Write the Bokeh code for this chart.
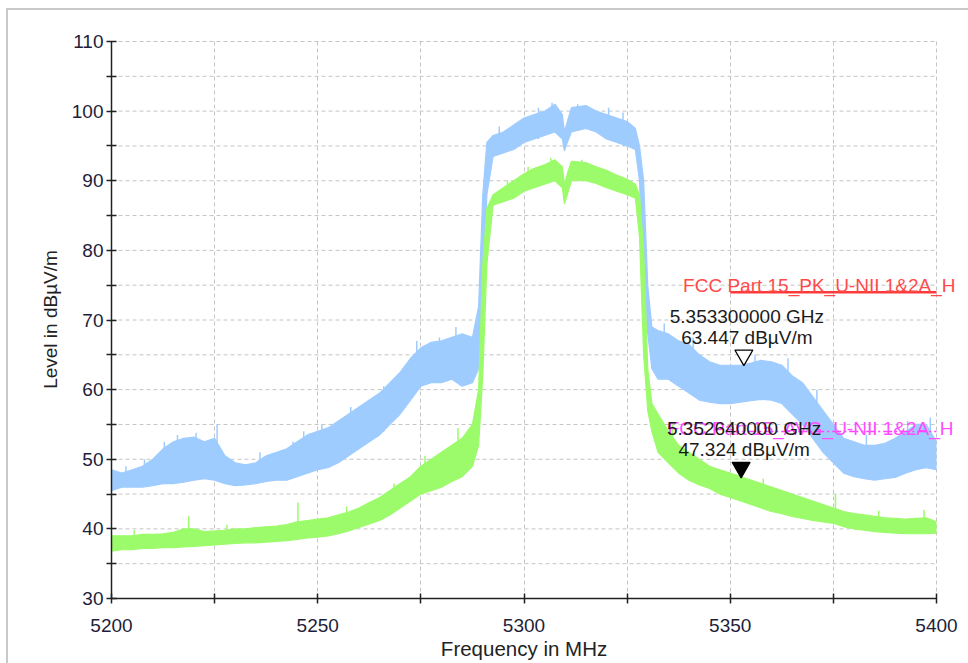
import math
from bokeh.plotting import figure
from bokeh.models import Range1d, FixedTicker, Label, ColumnDataSource, Title
from bokeh.embed import file_html
from bokeh.resources import INLINE

# ---------------- data ----------------
freq_mhz = [
    5200, 5202.5, 5205, 5207.5, 5210, 5212.5, 5215, 5217.5, 5220, 5222.5,
    5225, 5227.5, 5230, 5232.5, 5235, 5237.5, 5240, 5242.5, 5245, 5247.5,
    5250, 5252.5, 5255, 5257.5, 5260, 5262.5, 5265, 5267.5, 5270, 5272.5,
    5275, 5277.5, 5280, 5282.5, 5285, 5287.5,
    5289, 5290, 5291,
    5292.5, 5295, 5297.5, 5300, 5302.5, 5305, 5307.5,
    5309.3, 5309.8, 5310.5, 5311.5,
    5315, 5317.5, 5320, 5322.5, 5325,
    5327, 5328, 5329, 5330, 5331,
    5332.5, 5335, 5337.5, 5340, 5342.5, 5345, 5347.5, 5350, 5352.5, 5355,
    5357.5, 5360, 5362.5, 5365, 5367.5, 5370, 5372.5, 5375, 5377.5, 5380,
    5382.5, 5385, 5387.5, 5390, 5392.5, 5395, 5397.5, 5400,
]

# Peak trace (blue): lower / upper edge of the noise band, dBuV/m
pk_low = [
    45.5, 46.0, 46.0, 46.0, 46.2, 46.5, 46.5, 46.7, 47.0, 47.2,
    47.0, 46.5, 46.2, 46.3, 46.5, 46.8, 47.0, 47.0, 47.5, 48.0,
    48.5, 48.8, 49.5, 50.5, 51.5, 52.5, 53.5, 55.0, 56.5, 58.5,
    60.5, 61.0, 61.0, 61.5, 60.5, 61.0,
    63.0, 72.0, 88.0,
    93.5, 94.0, 94.5, 95.5, 96.0, 96.5, 97.0,
    96.0, 94.3, 95.5, 97.0,
    97.5, 97.0, 96.0, 95.5, 95.0,
    94.5, 90.0, 75.0, 68.0, 63.0,
    61.5, 61.5, 60.5, 59.5, 58.5, 58.2, 58.0, 58.0, 58.2, 58.4,
    58.6, 58.5, 58.0, 56.5, 55.0, 53.0, 51.0, 49.5, 48.0, 47.5,
    47.2, 47.0, 47.2, 47.4, 48.0, 48.5, 48.8, 48.5,
]
pk_high = [
    48.5, 48.0, 48.5, 49.0, 50.0, 51.5, 52.5, 53.0, 53.2, 52.5,
    53.0, 50.5, 49.5, 49.2, 49.5, 50.5, 51.0, 51.5, 52.5, 53.5,
    54.0, 54.5, 55.5, 56.5, 57.5, 58.5, 59.5, 61.0, 62.5, 64.5,
    66.0, 66.8, 67.0, 67.5, 68.0, 67.5,
    72.0, 88.0, 95.5,
    96.5, 97.0, 98.0, 99.0, 99.5, 100.0, 101.0,
    99.5, 97.0, 98.5, 100.5,
    100.8, 100.0, 99.5, 99.0, 98.5,
    97.5, 95.0, 90.0, 75.0, 69.0,
    68.5, 68.0, 67.0, 66.5, 65.0, 64.0, 63.5, 63.5, 63.5, 63.8,
    64.2, 64.0, 63.5, 62.0, 61.0, 59.0, 57.0, 55.0, 53.0, 52.5,
    52.0, 52.0, 52.3, 53.0, 54.0, 55.0, 55.0, 52.5,
]

# Average trace (green): lower / upper edge of the noise band, dBuV/m
avg_low = [
    36.8, 37.0, 37.0, 37.2, 37.2, 37.3, 37.3, 37.4, 37.5, 37.6,
    37.7, 37.8, 37.9, 38.0, 38.0, 38.1, 38.2, 38.3, 38.5, 38.7,
    38.8, 39.0, 39.3, 39.7, 40.2, 40.7, 41.2, 42.0, 43.0, 44.0,
    45.0, 45.5, 46.0, 46.8, 47.5, 49.0,
    52.0, 62.0, 78.0,
    86.5, 87.0, 87.5, 88.5, 89.0, 89.5, 90.0,
    89.0, 86.7, 88.0, 90.0,
    90.0, 89.6, 89.0, 88.5, 88.0,
    87.5, 82.0, 65.0, 57.0, 54.0,
    51.0, 49.5, 48.0, 47.0, 46.3, 45.8, 45.0, 44.5, 44.0, 43.5,
    43.0, 42.5, 42.2, 41.8, 41.5, 41.2, 41.0, 40.8, 40.3, 40.0,
    39.8, 39.6, 39.5, 39.4, 39.3, 39.3, 39.3, 39.4,
]
avg_high = [
    39.0, 39.0, 39.0, 39.2, 39.2, 39.3, 39.5, 40.0, 40.0, 39.6,
    39.7, 39.8, 40.0, 40.0, 40.2, 40.3, 40.4, 40.6, 41.0, 41.2,
    41.4, 41.6, 42.0, 42.4, 43.0, 43.8, 44.5, 45.5, 46.5, 47.5,
    49.0, 50.0, 51.0, 52.0, 53.0, 55.0,
    60.0, 78.0, 86.0,
    88.0, 89.0, 90.0, 91.0, 91.8, 92.3, 93.0,
    92.0, 89.5, 91.0, 92.8,
    92.6, 92.0, 91.5, 90.8, 90.2,
    89.5, 88.0, 80.0, 63.0, 58.0,
    56.5, 54.0, 52.0, 51.0, 50.0, 49.0, 48.5, 48.0, 47.5, 47.0,
    46.5, 46.0, 45.5, 45.0, 44.5, 44.0, 43.5, 43.0, 42.5, 42.2,
    42.0, 41.8, 41.6, 41.5, 41.4, 41.5, 41.6, 41.0,
]

# isolated noise spikes seen on the traces
pk_spike_freq = [5203.5, 5208, 5212.8, 5216, 5220.5, 5225.6, 5236, 5244, 5246.6, 5251,
                 5258, 5266, 5274, 5279.5, 5283.5, 5294, 5303.5, 5306.8, 5313, 5320.5,
                 5324, 5334, 5341, 5356, 5364, 5371, 5383, 5393, 5398.5]
pk_spike_base = [46.0, 46.5, 47.0, 47.0, 47.0, 48.0, 47.0, 47.5, 48.5, 49.0,
                 51.0, 54.0, 60.0, 62.0, 62.0, 94.0, 96.0, 97.0, 98.0, 96.0,
                 95.0, 62.0, 60.0, 59.0, 59.0, 54.0, 48.0, 49.0, 49.0]
pk_spike_top = [49.0, 50.0, 52.5, 53.5, 53.8, 55.0, 51.0, 52.5, 54.0, 55.0,
                57.5, 60.5, 67.0, 67.5, 69.0, 97.8, 100.5, 101.2, 101.0, 100.5,
                99.8, 69.5, 67.5, 65.0, 64.5, 60.0, 53.5, 55.5, 56.0]
avg_spike_freq = [5205.5, 5218.7, 5228, 5245.2, 5257, 5268.5, 5276, 5284, 5296, 5301,
                  5306.5, 5314, 5336, 5351.5, 5358, 5375.5, 5386, 5397]
avg_spike_base = [37.5, 38.5, 38.0, 39.5, 40.0, 43.0, 46.0, 48.0, 88.0, 89.0,
                  91.0, 90.5, 50.0, 45.0, 44.0, 41.5, 40.0, 40.0]
avg_spike_top = [39.8, 41.8, 40.6, 43.8, 43.2, 46.5, 50.5, 54.5, 90.0, 92.0,
                 93.3, 93.0, 55.0, 47.8, 47.2, 45.0, 42.6, 42.7]

# limit lines
limit_freq = [5350, 5400]
pk_limit = [74, 74]
avg_limit = [54, 54]
pk_limit_name = "FCC Part 15_PK_U-NII 1&2A_H"
avg_limit_name = "FCC Part 15_AVG_U-NII 1&2A_H"

# markers
marker_freq_ghz = [5.3533, 5.35264]
marker_level = [63.447, 47.324]
marker_filled = [False, True]

x_ticks = [5200, 5250, 5300, 5350, 5400]
x_minor = [5225, 5275, 5325, 5375]
y_ticks = [30, 40, 50, 60, 70, 80, 90, 100, 110]
y_minor = [35, 45, 55, 65, 75, 85, 95, 105]
x_title = "Frequency in MHz"
y_title = "Level in dBµV/m"

# ---------------- layout ----------------
FONT = "Liberation Sans"
FS = "19px"
BLUE = "#9fccff"
GREEN = "#9cfb6a"
GRID = "#c4c4c4"
W, H = 968, 663
AX_LEFT, AX_RIGHT, AX_TOP, AX_BOTTOM = 111, 936, 41, 598   # pixel spots of the axis ends
px_per_mhz = (AX_RIGHT - AX_LEFT) / (x_ticks[-1] - x_ticks[0])
px_per_db = (AX_BOTTOM - AX_TOP) / (y_ticks[-1] - y_ticks[0])
x_end = x_ticks[-1] + (W - AX_RIGHT) / px_per_mhz
y_end = y_ticks[-1] + 1 / px_per_db

p = figure(width=W, height=H,
           x_range=Range1d(x_ticks[0], x_end), y_range=Range1d(y_ticks[0], y_end),
           output_backend="svg", toolbar_location=None,
           min_border_left=AX_LEFT, min_border_right=0,
           min_border_top=AX_TOP - 1, min_border_bottom=H - AX_BOTTOM,
           y_axis_label=y_title,
           styles={"box-shadow": "inset 6px 8px 0 0 #ffffff, inset 8px 10px 0 0 #c9c9c9"})
p.outline_line_color = None
p.background_fill_color = "white"
p.border_fill_color = None

xt = FixedTicker(ticks=x_ticks, minor_ticks=x_minor)
yt = FixedTicker(ticks=y_ticks, minor_ticks=y_minor)
p.xaxis.ticker = xt
p.yaxis.ticker = yt
p.xaxis.bounds = (x_ticks[0], x_ticks[-1])
p.yaxis.bounds = (y_ticks[0], y_ticks[-1])
for ax in (p.xaxis[0], p.yaxis[0]):
    ax.axis_line_color = "#222222"
    ax.axis_line_width = 1.5
    ax.major_tick_line_color = "#222222"
    ax.major_tick_line_width = 1.5
    ax.minor_tick_line_color = "#222222"
    ax.minor_tick_line_width = 1.5
    ax.major_tick_in = 5
    ax.major_tick_out = 5
    ax.minor_tick_in = 5
    ax.minor_tick_out = 5
    ax.major_label_text_font = FONT
    ax.major_label_text_font_size = FS
    ax.major_label_text_color = "#1e1e3a"
    ax.axis_label_text_font = FONT
    ax.axis_label_text_font_size = FS
    ax.axis_label_text_font_style = "normal"
    ax.axis_label_text_color = "#222222"
p.xaxis.major_label_standoff = 15
p.yaxis.major_label_standoff = 3
p.yaxis.axis_label_standoff = 8

# x-axis title: left-aligned title placed so that it is centred under the axis span
XT_FS = 20.5
xt_width = 8.11 * XT_FS          # approx. advance width of the title in Liberation Sans
p.add_layout(Title(text=x_title, align="left",
                   offset=(AX_RIGHT - AX_LEFT) / 2 - xt_width / 2, standoff=0,
                   text_font=FONT, text_font_size=f"{XT_FS}px", text_font_style="normal",
                   text_color="#222222"), "below")

# vertical grid lines (major + minor)
p.xgrid.ticker = xt
g = p.xgrid[0]
g.grid_line_color = GRID
g.grid_line_dash = "4 3"
g.minor_grid_line_color = GRID
g.minor_grid_line_dash = "4 3"
p.ygrid.visible = False
# horizontal grid lines, limited to the axis span
y_grid = y_ticks[1:] + y_minor
p.segment(x0=[x_ticks[0]] * len(y_grid), y0=y_grid, x1=[x_ticks[-1]] * len(y_grid), y1=y_grid,
          line_color=GRID, line_dash="4 3", line_width=1)

src = ColumnDataSource(dict(f=freq_mhz, pl=pk_low, ph=pk_high, al=avg_low, ah=avg_high))

# peak trace
p.varea(x="f", y1="pl", y2="ph", source=src, fill_color=BLUE)
p.line(x="f", y="ph", source=src, line_color=BLUE, line_width=1.2)
p.line(x="f", y="pl", source=src, line_color=BLUE, line_width=1.2)
p.segment(x0=pk_spike_freq, y0=pk_spike_base, x1=pk_spike_freq, y1=pk_spike_top,
          line_color=BLUE, line_width=1.5)

# average trace
p.varea(x="f", y1="al", y2="ah", source=src, fill_color=GREEN)
p.line(x="f", y="ah", source=src, line_color=GREEN, line_width=1.2)
p.line(x="f", y="al", source=src, line_color=GREEN, line_width=1.2)
p.segment(x0=avg_spike_freq, y0=avg_spike_base, x1=avg_spike_freq, y1=avg_spike_top,
          line_color=GREEN, line_width=1.5)

# limit lines
p.line(limit_freq, pk_limit, line_color="#ff3a3a", line_width=2.5)
p.line(limit_freq, avg_limit, line_color="#ff44ff", line_width=1.5, line_dash="9 3 2 3")

p.add_layout(Label(x=limit_freq[-1], y=pk_limit[-1], text=pk_limit_name,
                   x_offset=19, y_offset=7, text_align="right", text_baseline="alphabetic",
                   text_font=FONT, text_font_size=FS, text_color="#ff4a4a"))
p.add_layout(Label(x=limit_freq[-1], y=avg_limit[-1], text=avg_limit_name,
                   x_offset=17, y_offset=3, text_align="right", text_baseline="alphabetic",
                   text_font=FONT, text_font_size=FS, text_color="#ff4dff"))

# markers: triangle tip sits on the measured point
MS = 18
tip_shift = (2.0 / 3.0) * (MS / 2.0) * math.sqrt(3) / px_per_db
mk_x = [fg * 1000 for fg in marker_freq_ghz]
for fx, lv, filled in zip(mk_x, marker_level, marker_filled):
    p.scatter([fx], [lv + tip_shift], marker="inverted_triangle", size=MS,
              fill_color="black" if filled else "white", line_color="black", line_width=1.3)

for fg, fx, lv in zip(marker_freq_ghz, mk_x, marker_level):
    p.add_layout(Label(x=fx, y=lv, text=f"{fg:.9f} GHz", x_offset=3, y_offset=49,
                       text_align="center", text_baseline="alphabetic",
                       text_font=FONT, text_font_size=FS, text_color="#1a1a1a"))
    p.add_layout(Label(x=fx, y=lv, text=f"{lv:.3f} dBµV/m", x_offset=3, y_offset=28,
                       text_align="center", text_baseline="alphabetic",
                       text_font=FONT, text_font_size=FS, text_color="#1a1a1a"))

open("out.html", "w").write(file_html(p, INLINE))
